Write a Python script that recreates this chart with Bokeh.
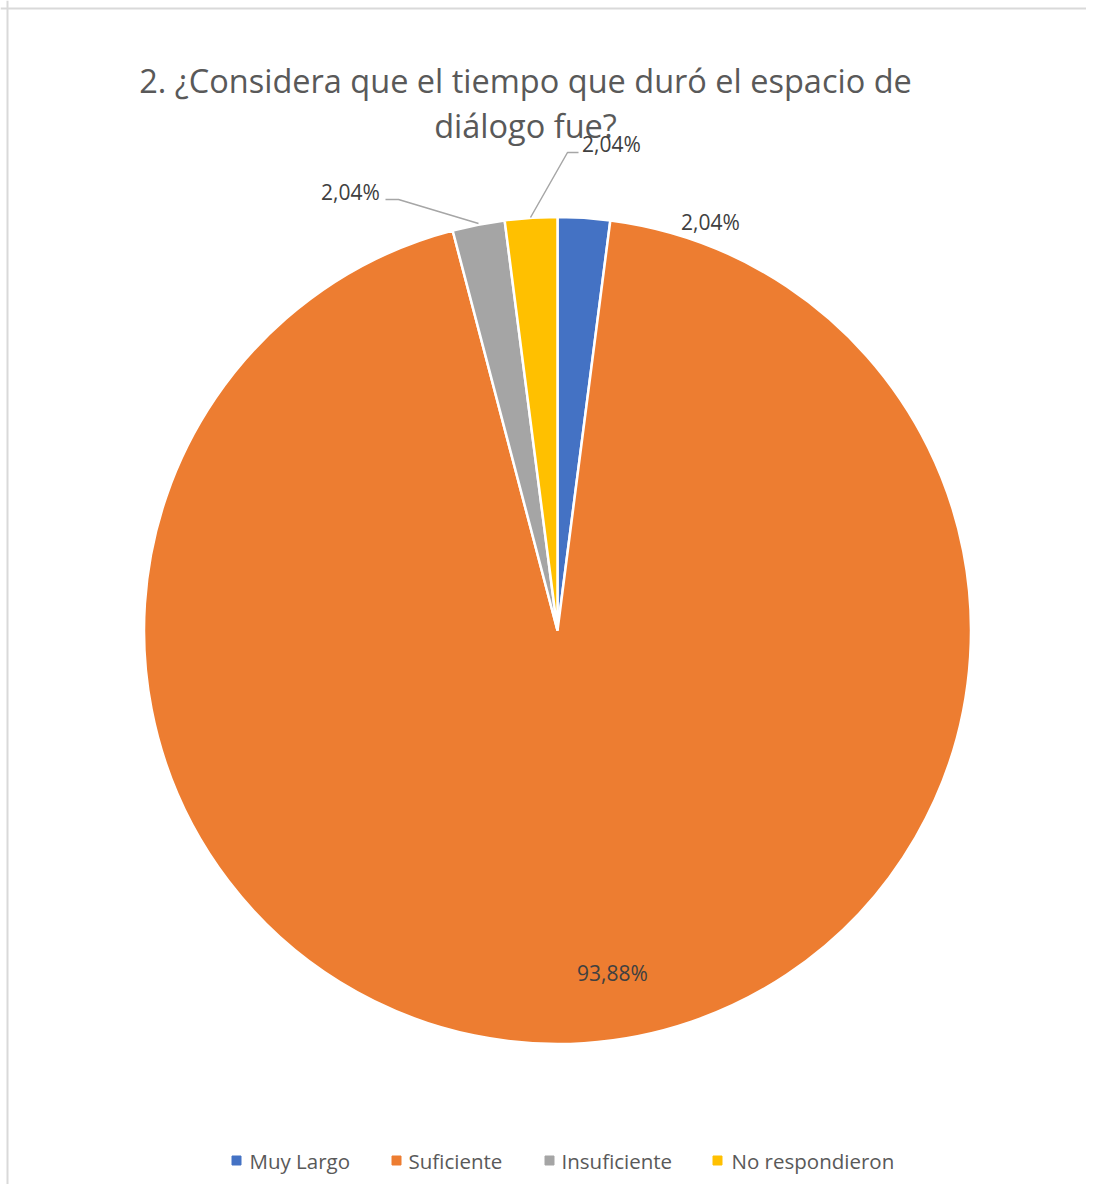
import numpy as np
from bokeh.plotting import figure
from bokeh.models import Range1d, ColumnDataSource, Span
from bokeh.core.properties import value
from bokeh.embed import file_html
from bokeh.resources import INLINE

categories = ["Muy Largo", "Suficiente", "Insuficiente", "No respondieron"]
percentages = [2.04, 93.88, 2.04, 2.04]
colors = ["#4472C4", "#ED7D31", "#A5A5A5", "#FFC000"]
title_lines = ["2. ¿Considera que el tiempo que duró el espacio de", "diálogo fue?"]

W, H = 1086, 1184
FONT = "Open Sans"


def px(x):
    return x


def py(y):
    return H - y


p = figure(width=W, height=H, output_backend="svg", toolbar_location=None,
           x_range=Range1d(0, W), y_range=Range1d(0, H), min_border=0,
           match_aspect=False)
p.axis.visible = False
p.grid.visible = False
p.outline_line_color = None
p.background_fill_color = "white"
p.border_fill_color = "white"

# chart border (left and top visible)
p.add_layout(Span(location=px(7), dimension="height", line_color="#D9D9D9", line_width=2))
p.add_layout(Span(location=py(8), dimension="width", line_color="#D9D9D9", line_width=2))

vals = np.array(percentages)
fr = vals / vals.sum() * 2 * np.pi
ends_cum = np.cumsum(fr)
starts = np.pi / 2 - np.concatenate([[0], ends_cum[:-1]])
ends = np.pi / 2 - ends_cum

cx, cy, r = px(557), py(630), 413.5
src = ColumnDataSource(dict(start=starts, end=ends, color=colors, cat=categories))
p.wedge(x=cx, y=cy, radius=r, start_angle="start", end_angle="end",
        direction="clock", fill_color="color", line_color="white",
        line_width=2.5, source=src)

# title
p.text(x=[px(525), px(525)], y=[py(80), py(125)], text=title_lines,
       text_font=value(FONT), text_font_size="32.5px", text_color="#595959",
       text_align="center", text_baseline="middle")

# data labels
labels = [f"{v:.2f}".replace(".", ",") + "%" for v in percentages]
lab_x = [px(710), px(612), px(350), px(611)]
lab_y = [py(221), py(972), py(191), py(143)]
p.text(x=lab_x, y=lab_y, text=labels, text_font=value(FONT),
       text_font_size="21px", text_color="#404040",
       text_align="center", text_baseline="middle")

# leader lines
p.line(x=[px(385), px(398), px(478)], y=[py(199), py(199), py(223)],
       line_color="#A6A6A6", line_width=1.5)
p.line(x=[px(578), px(567), px(530)], y=[py(152), py(152), py(217)],
       line_color="#A6A6A6", line_width=1.5)

# legend
sq_x = [px(236), px(396), px(549), px(717)]
tx_x = [px(249), px(408), px(561), px(731)]
leg_y = py(1160)
p.scatter(x=sq_x, y=[leg_y] * 4, marker="square", size=9, color=colors)
p.text(x=tx_x, y=[leg_y] * 4, text=categories, text_font=value(FONT),
       text_font_size="20.5px", text_color="#595959",
       text_align="left", text_baseline="middle")

open("out.html", "w").write(file_html(p, INLINE))
